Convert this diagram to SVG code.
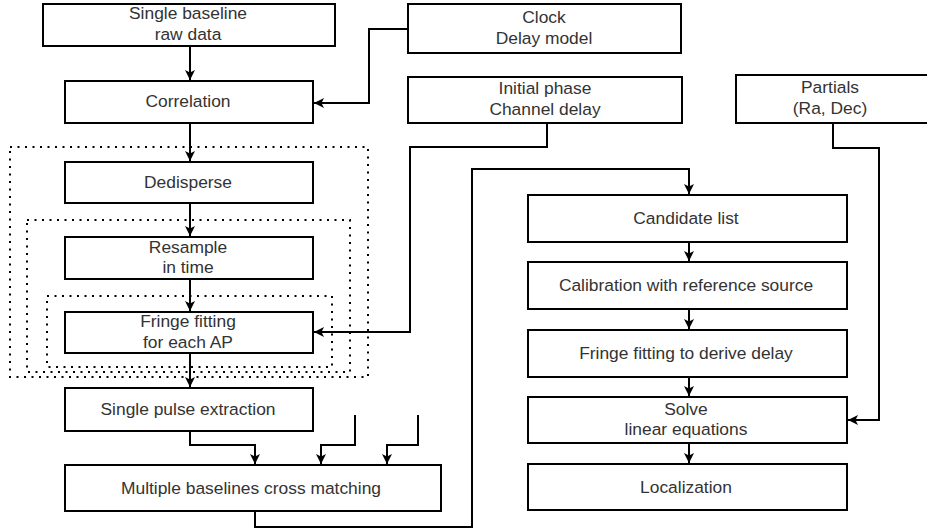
<svg xmlns="http://www.w3.org/2000/svg" width="927" height="532" viewBox="0 0 927 532">
<defs>
<style>
.box{fill:#fff;stroke:#000;stroke-width:2}
.grp{fill:none;stroke:#000;stroke-width:2;stroke-dasharray:2 5.5}
.c{fill:none;stroke:#000;stroke-width:2}
.a{marker-end:url(#arr)}
text{font-family:"Liberation Sans",Arial,sans-serif;font-size:17.4px;fill:#333;text-anchor:middle}
</style>
<marker id="arr" markerUnits="userSpaceOnUse" markerWidth="11" markerHeight="11" refX="10" refY="5" orient="auto" viewBox="0 0 11 10">
<path d="M0,0 L10,5 L0,10 L2.5,5 z" fill="#000"/>
</marker>
</defs>
<rect width="927" height="532" fill="#fff"/>
<g id="groups">
<rect class="grp" x="10" y="147" width="358" height="230"/>
<rect class="grp" x="27" y="220" width="323" height="152"/>
<rect class="grp" x="47" y="296" width="285" height="71"/>
</g>
<g id="connectors">
<path class="c a" d="M190,46 V80"/>
<path class="c a" d="M408,29 H369 V103 H314"/>
<path class="c a" d="M190,123 V161"/>
<path class="c a" d="M190,203 V236"/>
<path class="c a" d="M190,279 V311"/>
<path class="c a" d="M190,353 V387"/>
<path class="c a" d="M547,123 V147 H410 V332 H314"/>
<path class="c a" d="M190,431 V445 H255 V464"/>
<path class="c a" d="M355,415 V445 H321 V464"/>
<path class="c a" d="M418,415 V445 H387 V464"/>
<path class="c a" d="M255,511 V527 H472 V169 H689 V194"/>
<path class="c a" d="M689,242 V261"/>
<path class="c a" d="M689,309 V329"/>
<path class="c a" d="M689,377 V396"/>
<path class="c a" d="M689,443 V463"/>
<path class="c a" d="M833,123 V148 H879 V420 H848"/>
</g>
<g id="raw"><rect class="box" x="43" y="4" width="292" height="42"/><text x="188" y="19">Single baseline</text><text x="188" y="40">raw data</text></g>
<g id="correlation"><rect class="box" x="65" y="81" width="248" height="42"/><text x="188" y="107">Correlation</text></g>
<g id="clock"><rect class="box" x="408" y="4" width="273" height="49"/><text x="544" y="23">Clock</text><text x="544" y="44">Delay model</text></g>
<g id="initial"><rect class="box" x="408" y="77" width="274" height="46"/><text x="545" y="94">Initial phase</text><text x="545" y="115">Channel delay</text></g>
<g id="partials"><rect class="box" x="736" y="75" width="194" height="48"/><text x="830" y="93">Partials</text><text x="830" y="114">(Ra, Dec)</text></g>
<g id="dedisperse"><rect class="box" x="65" y="162" width="248" height="41"/><text x="188" y="188">Dedisperse</text></g>
<g id="resample"><rect class="box" x="65" y="237" width="248" height="42"/><text x="188" y="252.5">Resample</text><text x="188" y="272.5">in time</text></g>
<g id="fringeap"><rect class="box" x="65" y="312" width="248" height="41"/><text x="188" y="327">Fringe fitting</text><text x="188" y="347.5">for each AP</text></g>
<g id="singlepulse"><rect class="box" x="65" y="388" width="248" height="43"/><text x="188" y="414.5">Single pulse extraction</text></g>
<g id="multiple"><rect class="box" x="65" y="465" width="376" height="46"/><text x="251" y="493.5">Multiple baselines cross matching</text></g>
<g id="candidate"><rect class="box" x="528" y="195" width="319" height="47"/><text x="686" y="223.5">Candidate list</text></g>
<g id="calibration"><rect class="box" x="528" y="262" width="319" height="47"/><text x="686" y="290.5">Calibration with reference source</text></g>
<g id="fringedelay"><rect class="box" x="528" y="330" width="319" height="47"/><text x="686" y="358.5">Fringe fitting to derive delay</text></g>
<g id="solve"><rect class="box" x="528" y="397" width="319" height="46"/><text x="686" y="414.5">Solve</text><text x="686" y="435">linear equations</text></g>
<g id="localization"><rect class="box" x="528" y="464" width="319" height="46"/><text x="686" y="492.5">Localization</text></g>
</svg>
